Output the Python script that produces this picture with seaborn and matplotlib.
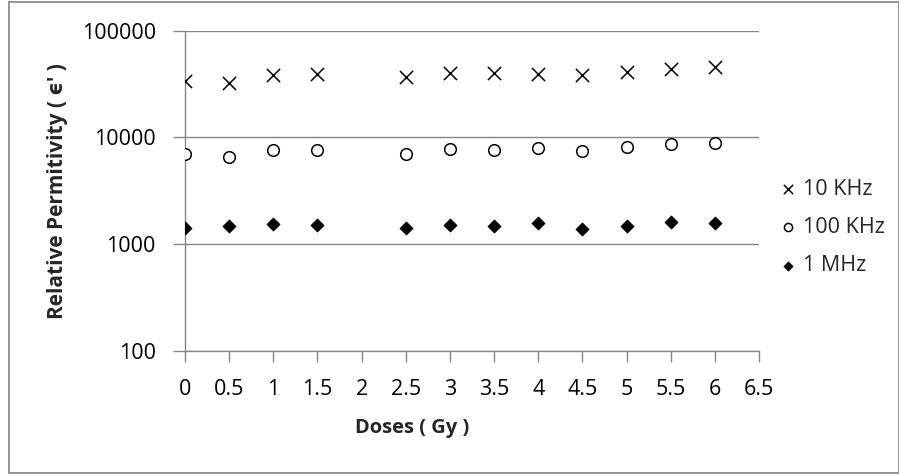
import matplotlib
matplotlib.use("Agg")
import matplotlib.pyplot as plt
from matplotlib.patches import Rectangle
from matplotlib.ticker import FixedLocator, NullLocator
import pandas as pd
import seaborn as sns

# Dose values (Gy) at which permittivity was measured
doses = [0, 0.5, 1, 1.5, 2.5, 3, 3.5, 4, 4.5, 5, 5.5, 6]

# Relative permittivity at each measuring frequency
eps_10khz = [33700, 32500, 38600, 39200, 36700, 40300, 40300, 39200, 38600, 40600, 43600, 45300]
eps_100khz = [6930, 6580, 7550, 7550, 6980, 7770, 7660, 7890, 7480, 8060, 8590, 8900]
eps_1mhz = [1420, 1475, 1530, 1497, 1403, 1507, 1466, 1573, 1383, 1466, 1597, 1563]

series_labels = ["10 KHz", "100 KHz", "1 MHz"]
x_ticks = [0, 0.5, 1, 1.5, 2, 2.5, 3, 3.5, 4, 4.5, 5, 5.5, 6, 6.5]
x_tick_labels = ["0", "0.5", "1", "1.5", "2", "2.5", "3", "3.5", "4", "4.5", "5", "5.5", "6", "6.5"]
y_ticks = [100, 1000, 10000, 100000]
y_tick_labels = ["100", "1000", "10000", "100000"]

df = pd.DataFrame({
    "dose": doses * 3,
    "eps": eps_10khz + eps_100khz + eps_1mhz,
    "freq": [series_labels[0]] * len(doses) + [series_labels[1]] * len(doses) + [series_labels[2]] * len(doses),
})

sns.set_style("white")
plt.rcParams["font.family"] = ["Open Sans", "DejaVu Sans"]

GRAY = "#868686"
W, H = 899, 476
fig = plt.figure(figsize=(W / 100, H / 100), dpi=100)
left, right, top, bottom = 185, 759, 30.6, 351
ax = fig.add_axes([left / W, 1 - bottom / H, (right - left) / W, (bottom - top) / H])

styles = {
    "10 KHz": dict(marker="x", s=90, color="black", linewidth=1.1),
    "100 KHz": dict(marker="o", s=70, facecolor="white", edgecolor="black", linewidth=1.1),
    "1 MHz": dict(marker="D", s=45, color="black", edgecolor="black", linewidth=0.5),
}
for lab in series_labels:
    sub = df[df["freq"] == lab]
    sns.scatterplot(data=sub, x="dose", y="eps", ax=ax, label=lab, zorder=3, **styles[lab])

ax.set_yscale("log")
ax.set_ylim(100, 100000)
ax.set_xlim(0, 6.5)
ax.yaxis.set_major_locator(FixedLocator(y_ticks))
ax.yaxis.set_minor_locator(NullLocator())
ax.set_yticklabels(y_tick_labels)
ax.set_xticks(x_ticks)
ax.set_xticklabels(x_tick_labels)

ax.grid(axis="y", color=GRAY, linewidth=1.0)
ax.grid(axis="x", visible=False)
ax.set_axisbelow(True)
for side in ["top", "right"]:
    ax.spines[side].set_visible(False)
for side in ["left", "bottom"]:
    ax.spines[side].set_color(GRAY)
    ax.spines[side].set_linewidth(1.0)

ax.tick_params(axis="y", direction="out", length=9, width=1, color=GRAY, pad=12,
               labelsize=15.5, labelcolor="black", left=True)
ax.tick_params(axis="x", direction="out", length=8, width=1, color=GRAY, pad=12,
               labelsize=15.5, labelcolor="black", bottom=True)

ax.set_xlabel("")
ax.set_ylabel("")
fig.text(412 / W, 1 - 428 / H, "Doses ( Gy )", ha="center", va="center",
         fontsize=14.5, fontweight="bold")
fig.text(57 / W, 1 - 191 / H, "Relative Permitivity ( ϵ′ )", ha="center", va="center",
         rotation=90, fontsize=15, fontweight="bold",
         family=["Open Sans", "DejaVu Sans"])

leg = ax.legend(loc="center left", bbox_to_anchor=(771 / W, 1 - 227.5 / H),
                bbox_transform=fig.transFigure, frameon=False, fontsize=15.5,
                markerscale=0.7, handlelength=0.6, handletextpad=0.4,
                labelspacing=0.8, borderpad=0)

fig.patches.append(Rectangle((9 / W, 1 - 472.5 / H), (W - 9.5) / W, (472.5 - 2) / H,
                             transform=fig.transFigure, fill=False,
                             edgecolor="#8c8c8c", linewidth=1.3))

fig.savefig("out.png", dpi=100)
